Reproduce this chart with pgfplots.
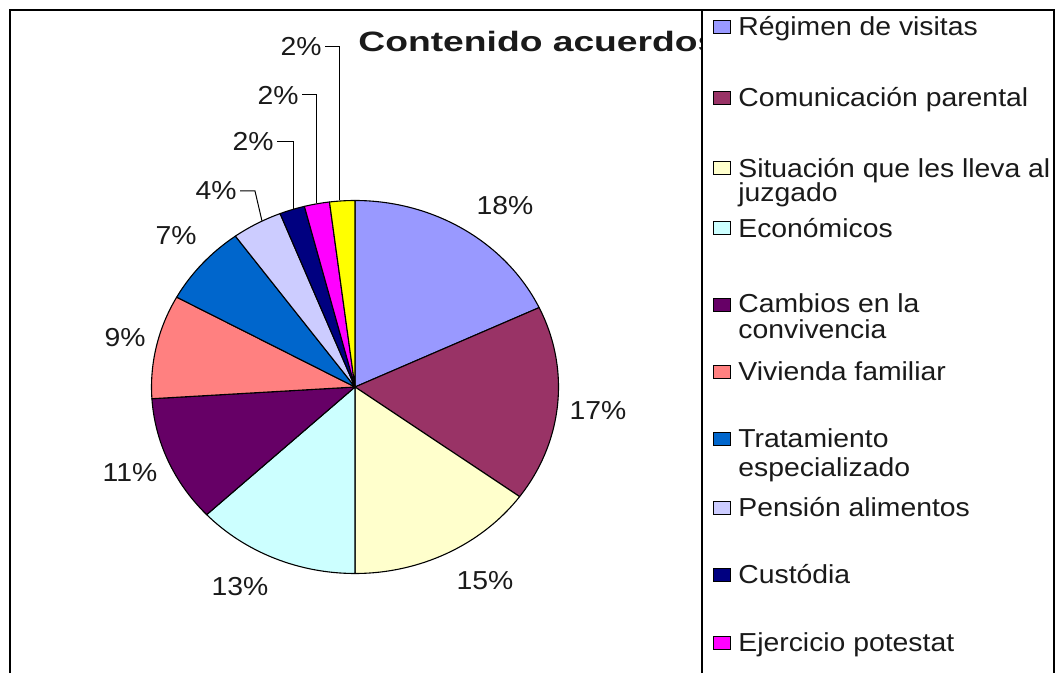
\documentclass[border=0pt]{standalone}
\usepackage{fontspec}
\setmainfont{Liberation Sans}
\usepackage{graphicx}
\usepackage{pgfplots}
\pgfplotsset{compat=1.18}
\definecolor{c1}{HTML}{9999FF}
\definecolor{c2}{HTML}{993366}
\definecolor{c3}{HTML}{FFFFCC}
\definecolor{c4}{HTML}{CCFFFF}
\definecolor{c5}{HTML}{660066}
\definecolor{c6}{HTML}{FF8080}
\definecolor{c7}{HTML}{0066CC}
\definecolor{c8}{HTML}{CCCCFF}
\definecolor{c9}{HTML}{000080}
\definecolor{c10}{HTML}{FF00FF}
\definecolor{c11}{HTML}{FFFF00}
\definecolor{txt}{HTML}{1A1A1A}
\newcommand{\sx}[1]{\scalebox{1.09}[1]{#1}}
% #1 cumulative percent before slice, #2 slice percent, #3 colour
\newcommand{\slice}[3]{%
  \filldraw[fill=#3, draw=black, line width=0.55pt, line join=round]
    (axis cs:355,387) -- ++({90-3.6*(#1)}:101.75pt and 93.25pt)
    arc[start angle={90-3.6*(#1)}, delta angle={-3.6*(#2)}, x radius=101.75pt, y radius=93.25pt]
    -- cycle;}
% #1 top, #2 bottom, #3 baseline, #4 colour, #5 text
\newcommand{\legitem}[5]{%
  \filldraw[fill=#4, draw=black, line width=0.5pt] (axis cs:713,#1) rectangle (axis cs:730,#2);
  \node[anchor=base west, inner sep=0pt] at (axis cs:738,#3) {\sx{#5}};}
\newcommand{\legline}[2]{%
  \node[anchor=base west, inner sep=0pt] at (axis cs:738,#1) {\sx{#2}};}
\begin{document}
\begin{tikzpicture}[every node/.style={font=\fontsize{13pt}{15pt}\selectfont, text=txt}]
\begin{axis}[
  at={(0,0)}, anchor=south west,
  width=528pt, height=336.5pt, scale only axis,
  xmin=0, xmax=1056, ymin=0, ymax=673, y dir=reverse,
  axis lines=none, ticks=none, clip=false]
\path (axis cs:0,0) rectangle (axis cs:1056,673);
% outer chart frame
\draw[line width=1pt, black] (axis cs:10,673) -- (axis cs:10,10) -- (axis cs:1055,10);
% pie slices (percent values)
\slice{0}{18}{c1}
\slice{18}{17}{c2}
\slice{35}{15}{c3}
\slice{50}{13}{c4}
\slice{63}{11}{c5}
\slice{74}{9}{c6}
\slice{83}{7}{c7}
\slice{90}{4}{c8}
\slice{94}{2}{c9}
\slice{96}{2}{c10}
\slice{98}{2}{c11}
% data labels
\node at (axis cs:505,206) {\sx{18\%}};
\node at (axis cs:598,411) {\sx{17\%}};
\node at (axis cs:485,581) {\sx{15\%}};
\node at (axis cs:240,587) {\sx{13\%}};
\node at (axis cs:130,473) {\sx{11\%}};
\node at (axis cs:125,338) {\sx{9\%}};
\node at (axis cs:176,236) {\sx{7\%}};
\node[anchor=east, inner sep=1pt] at (axis cs:239,191) {\sx{4\%}};
\node[anchor=east, inner sep=1pt] at (axis cs:276,142) {\sx{2\%}};
\node[anchor=east, inner sep=1pt] at (axis cs:301,95) {\sx{2\%}};
\node[anchor=east, inner sep=1pt] at (axis cs:324,47) {\sx{2\%}};
% leader lines
\draw[line width=0.5pt, black] (axis cs:240,191) -- (axis cs:255,191) -- (axis cs:262,221);
\draw[line width=0.5pt, black] (axis cs:277,142) -- (axis cs:293,142) -- (axis cs:293,209);
\draw[line width=0.5pt, black] (axis cs:302,95) -- (axis cs:316,95) -- (axis cs:316,203);
\draw[line width=0.5pt, black] (axis cs:325,47) -- (axis cs:339,47) -- (axis cs:339,200);
% title
\node[anchor=base west, inner sep=0pt, font=\fontsize{14pt}{16pt}\selectfont\bfseries] at (axis cs:358,52) {\scalebox{1.33}[1]{Contenido acuerdos}};
% legend box
\fill[white] (axis cs:702,10.5) rectangle (axis cs:1056,673);
\draw[line width=0.8pt, black] (axis cs:702,673) -- (axis cs:702,10) -- (axis cs:1054,10) -- (axis cs:1054,673);
\legitem{21}{34}{36}{c1}{Régimen de visitas}
\legitem{92}{105}{107}{c2}{Comunicación parental}
\legitem{162}{175}{177}{c3}{Situación que les lleva al}
\legline{202}{juzgado}
\legitem{222}{235}{237}{c4}{Económicos}
\legitem{298}{311}{313}{c5}{Cambios en la}
\legline{338}{convivencia}
\legitem{365}{378}{380}{c6}{Vivienda familiar}
\legitem{432}{445}{447}{c7}{Tratamiento}
\legline{476}{especializado}
\legitem{501}{514}{516}{c8}{Pensión alimentos}
\legitem{568}{581}{583}{c9}{Custódia}
\legitem{636}{649}{651}{c10}{Ejercicio potestat}
\end{axis}
\end{tikzpicture}
\end{document}
